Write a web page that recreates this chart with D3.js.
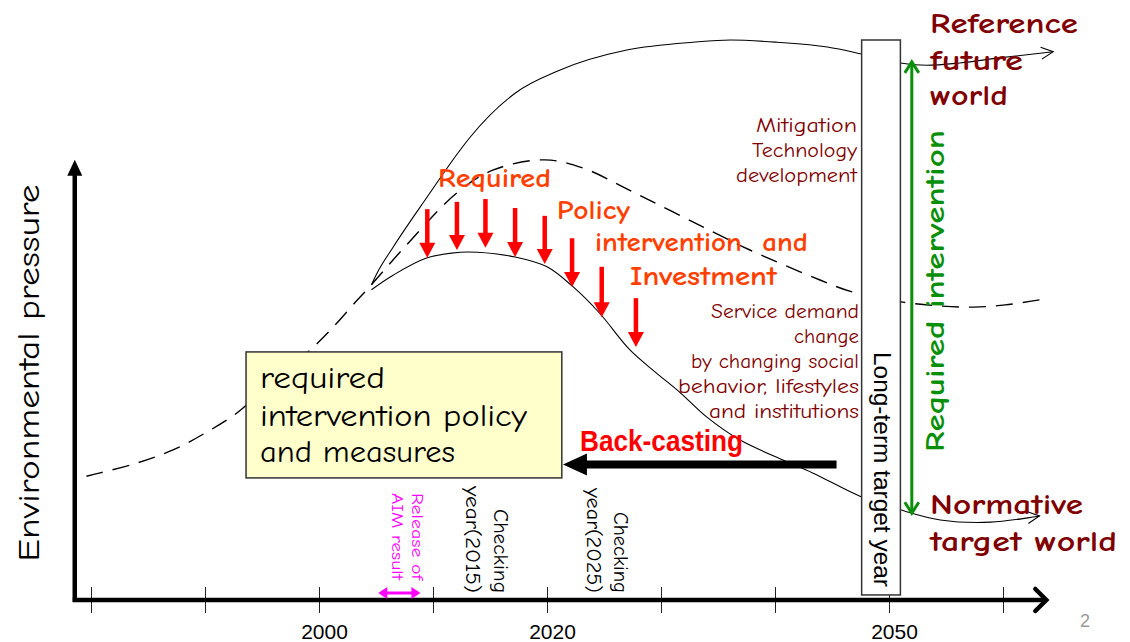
<!DOCTYPE html>
<html><head><meta charset="utf-8">
<script src="https://cdn.jsdelivr.net/npm/d3@7"></script>
<style>body{margin:0;background:#fff;} svg{display:block;}</style>
</head><body>
<svg id="c" width="1130" height="642"></svg>
<script>
// ---------------- data ----------------
const tickYears = [1980, 1990, 2000, 2010, 2020, 2030, 2040, 2050, 2060];
const labelYears = [2000, 2020, 2050];

// dashed trend (year, environmental pressure index)
const trendYears  = [1979.6, 1980.8, 1984.1, 1987.2, 1990.0, 1992.8, 1995.7, 1999.2, 2001.0, 2003.2, 2004.6, 2007.5, 2012.1, 2015.3, 2019.8, 2023.2, 2027.5, 2034.6, 2037.8, 2044.0, 2046.8, 2051.2, 2054.5, 2057.4, 2060.2, 2063.2];
const trendValues = [22.1, 22.7, 24.5, 26.8, 29.8, 33.4, 38.6, 44.6, 48.2, 53.2, 56.3, 63.0, 72.7, 76.8, 78.6, 77.1, 72.9, 65.7, 62.5, 57.1, 55.0, 53.2, 52.5, 52.3, 52.7, 53.6];

// reference future world path
const referenceYears  = [2004.6, 2005.1, 2006.5, 2009.5, 2012.4, 2013.2, 2017.2, 2021.1, 2027.0, 2032.8, 2036.1, 2040.2, 2044.6, 2047.6, 2051.0, 2053.3, 2056.2, 2059.7, 2064.4];
const referenceValues = [56.3, 58.4, 63.0, 72.0, 80.4, 82.5, 90.5, 94.6, 98.2, 99.6, 100.0, 99.6, 98.75, 97.5, 95.9, 95.5, 95.9, 96.8, 97.9];

// normative target world path
const normativeYears  = [2004.6, 2006.5, 2009.5, 2012.4, 2013.9, 2017.2, 2020.0, 2022.3, 2024.6, 2027.3, 2029.5, 2031.7, 2034.0, 2036.9, 2040.7, 2043.3, 2047.6, 2051.0, 2054.5, 2058.9, 2063.2];
const normativeValues = [55.4, 58.0, 61.1, 62.1, 62.1, 61.25, 59.5, 55.9, 51.25, 44.6, 40.7, 37.0, 32.7, 28.6, 25.0, 22.7, 18.4, 16.1, 14.3, 13.9, 15.0];

// red intervention arrows
const pushYears = [2009.5, 2012.1, 2014.6, 2017.2, 2019.8, 2022.2, 2024.8, 2027.8];
const pushFrom  = [69.8, 71.1, 71.6, 70.0, 68.6, 64.6, 59.5, 53.9];
const pushTo    = [61.1, 62.5, 62.9, 61.25, 60.0, 55.9, 50.5, 45.2];

// annotation anchors
const targetYearBox = [2047.6, 2051.0];
const targetBoxValues = [100, 0.9];
const requiredIntervention = {year: 2052.0, from: 96.1, to: 15.5};
const backCasting = {fromYear: 2045.4, toYear: 2021.4, value: 24.2};
const aimRelease = {fromYear: 2005.2, toYear: 2008.9, value: 1.25};
const policyBoxYears = [1993.6, 2021.3];
const policyBoxValues = [44.3, 21.8];
const axisYearRange = [1978.4, 2063.8];
const axisValueTop = 78.6;

// ---------------- drawing ----------------
const comic = "'Comic Sans MS','Comic Neue','DejaVu Sans',sans-serif";
const arial = "'Liberation Sans',Arial,sans-serif";
const svg = d3.select('#c');
const x = d3.scaleLinear().domain([2000, 2050]).range([319, 889]);
const y = d3.scaleLinear().domain([0, 100]).range([600, 40]);
const line = d3.line().x(d => x(d[0])).y(d => y(d[1])).curve(d3.curveCatmullRom.alpha(0.5));
const lineMono = d3.line().x(d => x(d[0])).y(d => y(d[1])).curve(d3.curveMonotoneX);
const zip = (a, b) => a.map((v, i) => [v, b[i]]);

// axis ticks
const axisG = svg.append('g').attr('transform', `translate(0,${y(0) - 13})`)
  .call(d3.axisBottom(x).tickValues(tickYears).tickSize(26).tickPadding(11)
    .tickFormat(d => labelYears.includes(d) ? String(d) : ''));
axisG.select('.domain').remove();
axisG.selectAll('line').attr('stroke', '#222').attr('stroke-width', 1);
axisG.selectAll('text').attr('font-family', arial).attr('font-size', 21).attr('fill', '#000').attr('dx', 5);

// curves
svg.append('path').attr('d', line(zip(trendYears, trendValues)))
  .attr('fill', 'none').attr('stroke', '#000').attr('stroke-width', 1.4).attr('stroke-dasharray', '17,10');
function curveWithHead(data, gen) {
  svg.append('path').attr('d', gen(data)).attr('fill', 'none').attr('stroke', '#000').attr('stroke-width', 1.1);
  const a = data[data.length - 2], b = data[data.length - 1];
  const ang = Math.atan2(y(b[1]) - y(a[1]), x(b[0]) - x(a[0]));
  const L = 12, W = 6, tx = x(b[0]), ty = y(b[1]);
  const p = (dl, dw) => [tx - dl * Math.cos(ang) - dw * Math.sin(ang), ty - dl * Math.sin(ang) + dw * Math.cos(ang)];
  svg.append('path').attr('d', d3.line()([p(L, -W), [tx, ty], p(L, W)]))
    .attr('fill', 'none').attr('stroke', '#000').attr('stroke-width', 1.1);
}
curveWithHead(zip(referenceYears, referenceValues), lineMono);
curveWithHead(zip(normativeYears, normativeValues), line);

// axes lines
svg.append('line').attr('x1', x(axisYearRange[0])).attr('x2', x(axisYearRange[1]) - 3)
  .attr('y1', y(0)).attr('y2', y(0)).attr('stroke', '#000').attr('stroke-width', 4.5);
svg.append('path').attr('d', d3.line()([[x(axisYearRange[1]) - 11, y(0) - 11], [x(axisYearRange[1]), y(0)], [x(axisYearRange[1]) - 11, y(0) + 11]]))
  .attr('fill', 'none').attr('stroke', '#000').attr('stroke-width', 4.5).attr('stroke-linecap', 'round');
const yAxX = x(axisYearRange[0]) + 2;
svg.append('line').attr('x1', yAxX).attr('x2', yAxX).attr('y1', y(0) + 2).attr('y2', y(axisValueTop) + 12)
  .attr('stroke', '#000').attr('stroke-width', 4.5);
svg.append('path').attr('d', d3.line()([[yAxX, y(axisValueTop)], [yAxX - 7.5, y(axisValueTop) + 16], [yAxX + 7.5, y(axisValueTop) + 16]]) + 'Z')
  .attr('fill', '#000');

// policy box
svg.append('rect').attr('x', x(policyBoxYears[0])).attr('y', y(policyBoxValues[0]))
  .attr('width', x(policyBoxYears[1]) - x(policyBoxYears[0])).attr('height', y(policyBoxValues[1]) - y(policyBoxValues[0]))
  .attr('fill', '#ffffcc').attr('stroke', '#333').attr('stroke-width', 1.5);

// red arrows
pushYears.forEach((yr, i) => {
  const px = x(yr), y0 = y(pushFrom[i]), y1 = y(pushTo[i]);
  svg.append('line').attr('x1', px).attr('x2', px).attr('y1', y0).attr('y2', y1 - 12)
    .attr('stroke', '#ff0000').attr('stroke-width', 4.5);
  svg.append('path').attr('d', d3.line()([[px - 8, y1 - 15], [px + 8, y1 - 15], [px, y1]]) + 'Z').attr('fill', '#ff0000');
});

// long-term target box
svg.append('rect').attr('x', x(targetYearBox[0])).attr('y', y(targetBoxValues[0]))
  .attr('width', x(targetYearBox[1]) - x(targetYearBox[0])).attr('height', y(targetBoxValues[1]) - y(targetBoxValues[0]))
  .attr('fill', '#fff').attr('stroke', '#333').attr('stroke-width', 1.5);

// green double arrow
{
  const gx = x(requiredIntervention.year), ya = y(requiredIntervention.from), yb = y(requiredIntervention.to);
  const g = svg.append('g').attr('stroke', '#0a8f0a').attr('stroke-width', 3).attr('fill', 'none');
  g.append('line').attr('x1', gx).attr('x2', gx).attr('y1', ya + 1).attr('y2', yb - 1);
  g.append('path').attr('d', d3.line()([[gx - 7, ya + 11], [gx, ya], [gx + 7, ya + 11]]));
  g.append('path').attr('d', d3.line()([[gx - 7, yb - 11], [gx, yb], [gx + 7, yb - 11]]));
}

// back-casting arrow
{
  const x0 = x(backCasting.fromYear), x1 = x(backCasting.toYear), yy = y(backCasting.value);
  svg.append('line').attr('x1', x0).attr('x2', x1 + 20).attr('y1', yy).attr('y2', yy).attr('stroke', '#000').attr('stroke-width', 8);
  svg.append('path').attr('d', d3.line()([[x1, yy], [x1 + 24, yy - 11], [x1 + 24, yy + 11]]) + 'Z').attr('fill', '#000');
}

// magenta double arrow
{
  const x0 = x(aimRelease.fromYear), x1 = x(aimRelease.toYear), yy = y(aimRelease.value);
  svg.append('line').attr('x1', x0 + 6).attr('x2', x1 - 6).attr('y1', yy).attr('y2', yy).attr('stroke', '#ff00ff').attr('stroke-width', 3);
  svg.append('path').attr('d', d3.line()([[x0, yy], [x0 + 9, yy - 6], [x0 + 9, yy + 6]]) + 'Z').attr('fill', '#ff00ff');
  svg.append('path').attr('d', d3.line()([[x1, yy], [x1 - 9, yy - 6], [x1 - 9, yy + 6]]) + 'Z').attr('fill', '#ff00ff');
}

// text helper
function T(parent, str, px, py, o) {
  const t = parent.append('text').attr('x', px).attr('y', py).text(str)
    .attr('font-family', o.ff || comic).attr('font-size', o.fs).attr('fill', o.fill || '#000')
    .attr('font-weight', o.bold ? 'bold' : 'normal').attr('text-anchor', o.anchor || 'start')
    .style('white-space', 'pre');
  if (o.len) t.attr('textLength', o.len).attr('lengthAdjust', 'spacingAndGlyphs');
  return t;
}
const orange = '#ff4000', maroon = '#800000';
T(svg, 'Required', 438, 187, {fs: 26, bold: 1, fill: orange, len: 113});
T(svg, 'Policy', 557, 219, {fs: 26, bold: 1, fill: orange, len: 73});
T(svg, 'intervention  and', 595, 251, {fs: 26, bold: 1, fill: orange, len: 213});
T(svg, 'Investment', 630, 285, {fs: 26, bold: 1, fill: orange, len: 147});

[['Mitigation', 132, 101], ['Technology', 157, 105], ['development', 182, 121]]
  .forEach(([s, yy, w]) => T(svg, s, 857, yy, {fs: 20, fill: maroon, anchor: 'end', len: w}));
[['Service demand', 318, 148], ['change', 343, 65], ['by changing social', 368, 168], ['behavior, lifestyles', 393, 181], ['and institutions', 418, 150]]
  .forEach(([s, yy, w]) => T(svg, s, 859, yy, {fs: 20, fill: maroon, anchor: 'end', len: w}));

[['Reference', 33, 148], ['future', 70, 93], ['world', 105, 78]]
  .forEach(([s, yy, w]) => T(svg, s, 930, yy, {fs: 28, bold: 1, fill: maroon, len: w}));
T(svg, 'Normative', 930, 514, {fs: 28, bold: 1, fill: maroon, len: 153});
T(svg, 'target world', 930, 551, {fs: 28, bold: 1, fill: maroon, len: 187});

[['required', 388, 125], ['intervention policy', 426, 267], ['and measures', 462, 195]]
  .forEach(([s, yy, w]) => T(svg, s, 260, yy, {fs: 31, len: w}));

T(svg, 'Back-casting', 580, 451, {fs: 30, bold: 1, ff: arial, fill: '#ff0000', len: 163});

// rotated texts
{
  const g = svg.append('g').attr('transform', 'translate(39,373) rotate(-90)');
  T(g, 'Environmental pressure', 0, 0, {fs: 30, anchor: 'middle', len: 377});
}
{
  const g = svg.append('g').attr('transform', 'translate(874,352) rotate(90)');
  T(g, 'Long-term target year', 0, 0, {fs: 23, ff: arial, len: 235});
}
{
  const g = svg.append('g').attr('transform', 'translate(944,452) rotate(-90)');
  T(g, 'Required intervention', 0, 0, {fs: 27, bold: 1, fill: '#0a8f0a', len: 322});
}
{
  const g = svg.append('g').attr('transform', 'translate(494,593) rotate(90)');
  T(g, 'Checking', 0, 0, {fs: 20, anchor: 'end', len: 84});
  T(g, 'year(2015)', 0, 28, {fs: 20, anchor: 'end', len: 107});
}
{
  const g = svg.append('g').attr('transform', 'translate(614,593) rotate(90)');
  T(g, 'Checking', 0, 0, {fs: 20, anchor: 'end', len: 81});
  T(g, 'year(2025)', 0, 27, {fs: 20, anchor: 'end', len: 105});
}
{
  const g = svg.append('g').attr('transform', 'translate(412,493) rotate(90)');
  T(g, 'Release of', 0, 0, {fs: 15, fill: '#ff00ff', len: 87});
  T(g, 'AIM result', 0, 20, {fs: 15, fill: '#ff00ff', len: 87});
}

T(svg, '2', 1080, 627, {fs: 18, ff: arial, fill: '#999'});
</script>
</body></html>
